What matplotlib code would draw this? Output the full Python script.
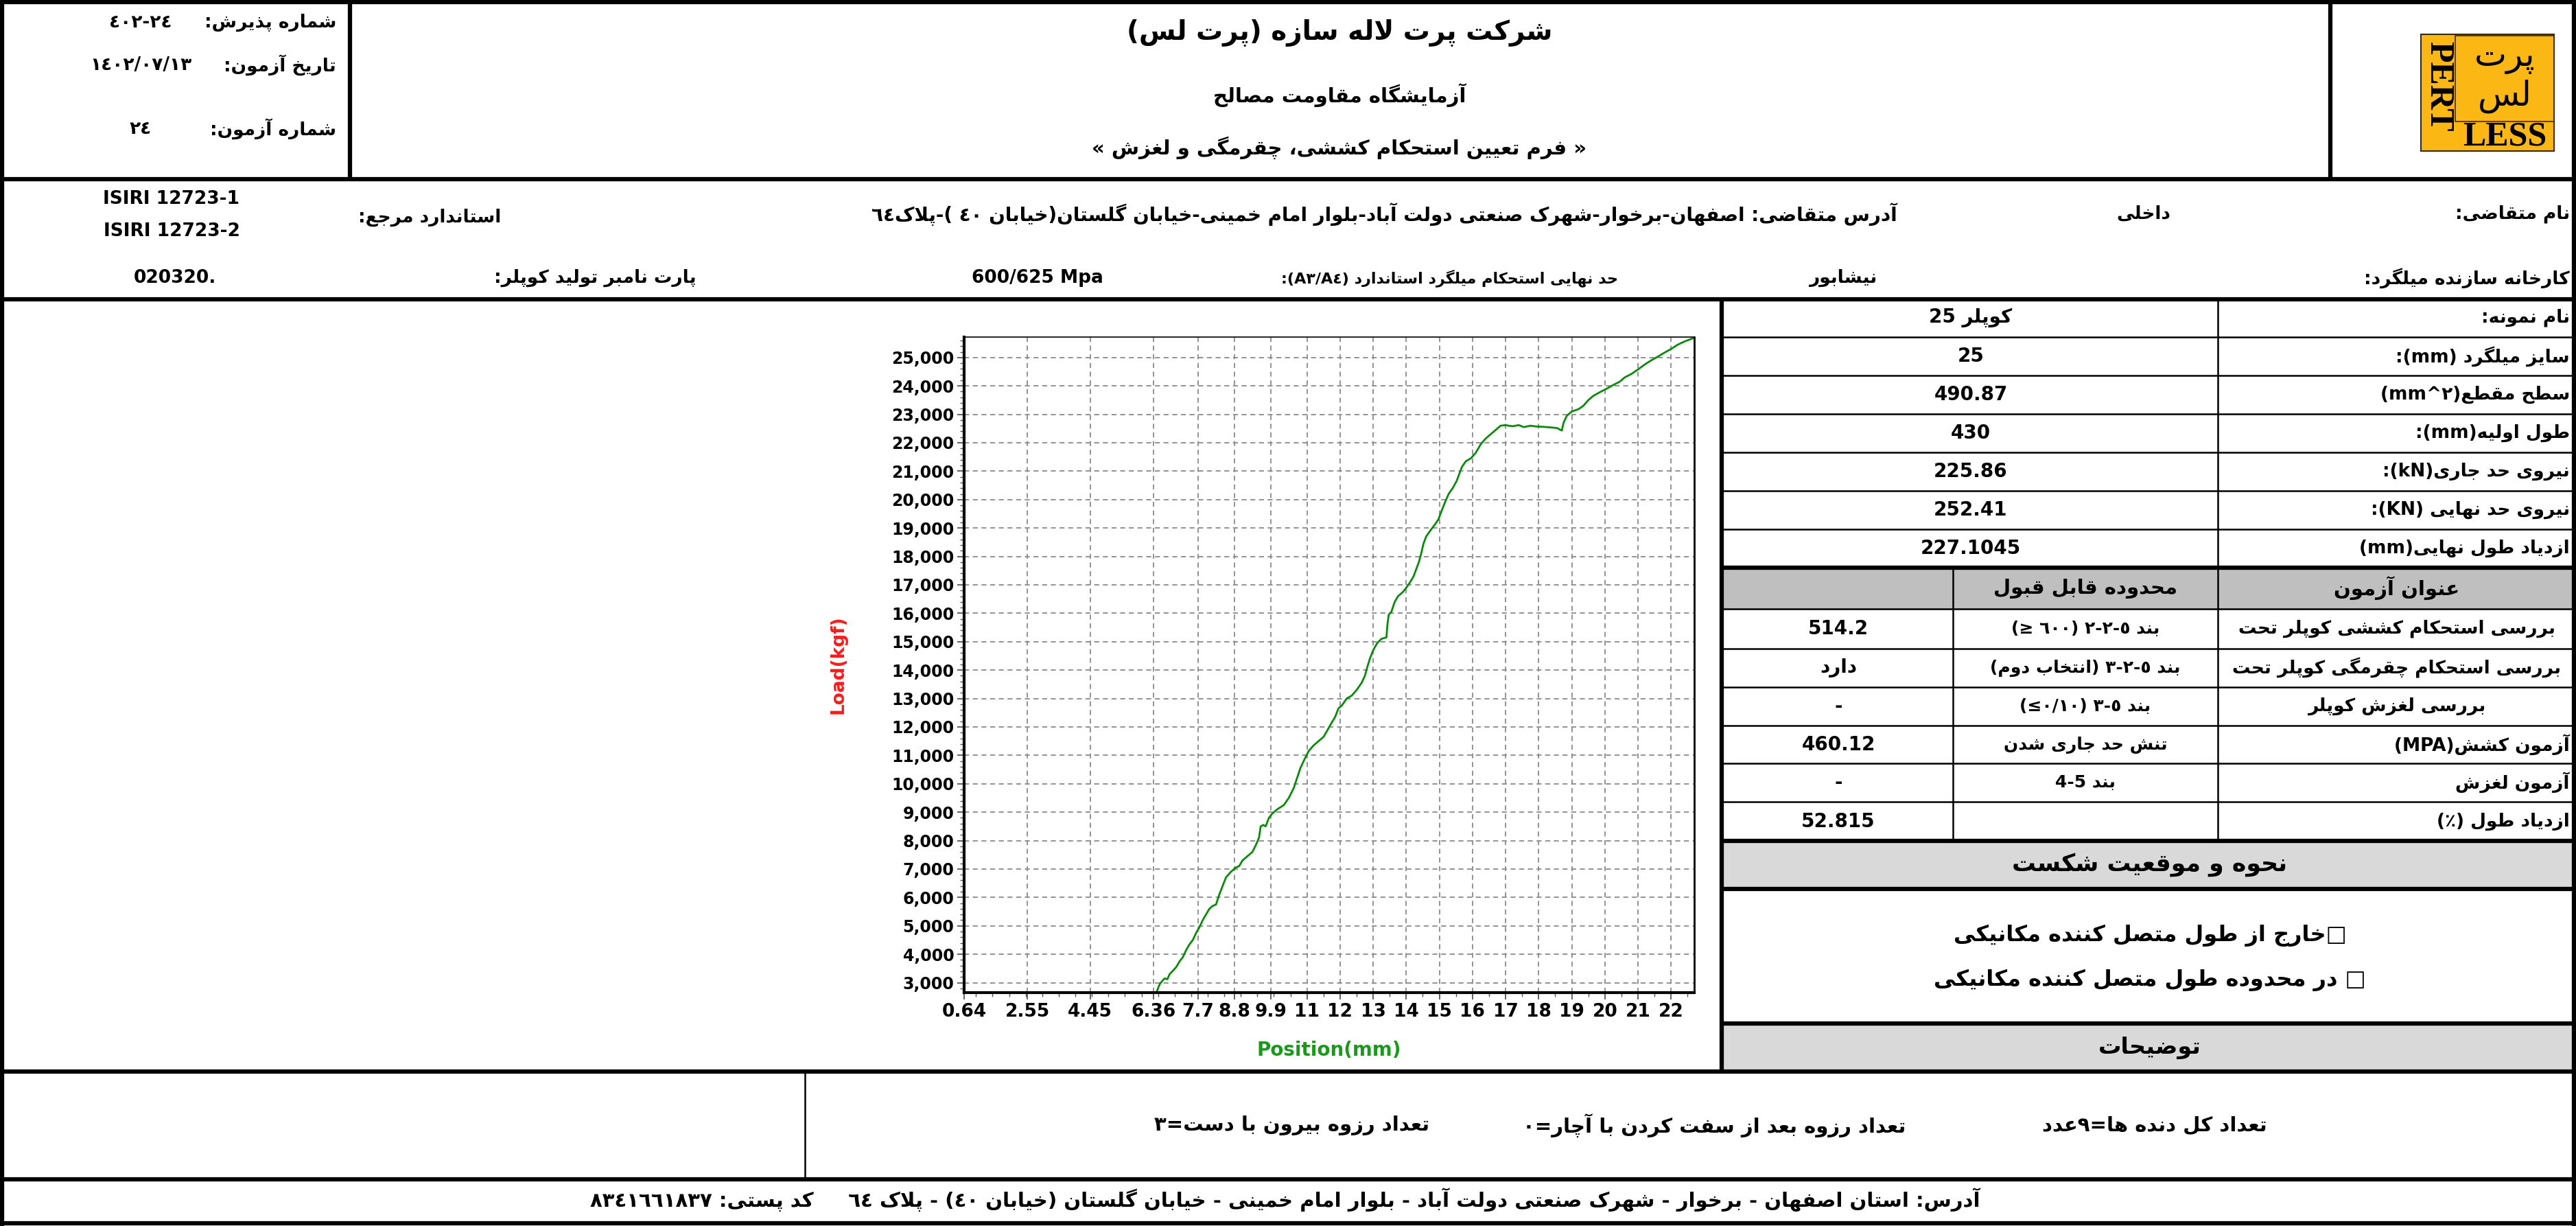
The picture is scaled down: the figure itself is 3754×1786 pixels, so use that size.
import numpy as np
import matplotlib
matplotlib.use("Agg")
import matplotlib.pyplot as plt
from matplotlib import font_manager
from matplotlib.ticker import FixedLocator, MultipleLocator, FuncFormatter
from matplotlib.patches import Rectangle

# ---- chart data ----
x_ticks = [0.64, 2.55, 4.45, 6.36, 7.7, 8.8, 9.9, 11, 12, 13, 14, 15, 16, 17, 18, 19, 20, 21, 22]
x_tick_labels = ['0.64', '2.55', '4.45', '6.36', '7.7', '8.8', '9.9', '11', '12', '13', '14',
                 '15', '16', '17', '18', '19', '20', '21', '22']
y_ticks = list(range(3000, 26000, 1000))

position = [6.45, 6.55, 6.62, 6.70, 6.78, 6.85, 6.95, 7.05, 7.15, 7.25, 7.35, 7.45, 7.55, 7.65,
            7.75, 7.85, 7.95, 8.05, 8.15, 8.25, 8.35, 8.45, 8.55, 8.70, 8.85, 8.95, 9.05, 9.20,
            9.35, 9.45, 9.55, 9.60, 9.68, 9.75, 9.85, 9.95, 10.10, 10.30, 10.45, 10.60, 10.70,
            10.80, 10.92, 11.05, 11.20, 11.35, 11.50, 11.60, 11.72, 11.85, 11.95, 12.05, 12.20,
            12.35, 12.50, 12.65, 12.75, 12.82, 12.90, 13.00, 13.12, 13.25, 13.40, 13.43, 13.47,
            13.55, 13.65, 13.75, 13.90, 14.00, 14.12, 14.22, 14.30, 14.38, 14.45, 14.52, 14.60,
            14.72, 14.85, 14.97, 15.05, 15.15, 15.28, 15.40, 15.52, 15.60, 15.68, 15.80, 15.95,
            16.10, 16.25, 16.40, 16.55, 16.70, 16.85, 17.00, 17.20, 17.40, 17.55, 17.75, 17.95,
            18.15, 18.35, 18.55, 18.70, 18.75, 18.85, 19.00, 19.20, 19.35, 19.50, 19.65, 19.85,
            20.05, 20.25, 20.45, 20.60, 20.80, 21.00, 21.20, 21.40, 21.60, 21.80, 22.00, 22.20,
            22.40, 22.60, 22.70]
load = [2650, 2950, 3050, 3150, 3120, 3300, 3420, 3550, 3750, 3900, 4150, 4350, 4500, 4750,
        4950, 5200, 5400, 5600, 5700, 5750, 6100, 6400, 6700, 6900, 7050, 7100, 7300, 7450,
        7600, 7830, 8100, 8500, 8550, 8500, 8800, 8950, 9100, 9250, 9500, 9850, 10200,
        10550, 10850, 11150, 11350, 11500, 11650, 11850, 12100, 12350, 12650, 12750, 13000,
        13100, 13300, 13550, 13800, 14100, 14400, 14700, 14950, 15100, 15150, 15600, 15950,
        16050, 16400, 16600, 16750, 16900, 17100, 17300, 17550, 17800, 18100, 18450, 18700,
        18900, 19100, 19300, 19550, 19850, 20200, 20400, 20650, 20900, 21150, 21350, 21450,
        21650, 21950, 22150, 22300, 22450, 22600, 22620, 22580, 22620, 22550, 22600, 22570,
        22560, 22540, 22520, 22430, 22700, 22950, 23100, 23180, 23300, 23500, 23650, 23780,
        23900, 24030, 24150, 24300, 24420, 24580, 24750, 24900, 25030, 25170, 25300, 25450,
        25560, 25650, 25700]

# ---- form texts ----
head_left_labels = ['شماره پذیرش:', 'تاریخ آزمون:', 'شماره آزمون:']
head_left_values = ['٤٠٢-٢٤', '١٤٠٢/٠٧/١٣', '٢٤']
head_titles = ['شرکت پرت لاله سازه (پرت لس)', 'آزمایشگاه مقاومت مصالح',
               '« فرم تعیین استحکام کششی، چقرمگی و لغزش »']

sample_labels = ['نام نمونه:', 'سایز میلگرد (mm):', 'سطح مقطع(mm^۲)', 'طول اولیه(mm):',
                 'نیروی حد جاری(kN):', 'نیروی حد نهایی (KN):', 'ازدیاد طول نهایی(mm)']
sample_values = ['کوپلر 25', '25', '490.87', '430', '225.86', '252.41', '227.1045']

test_titles = ['بررسی استحکام کششی کوپلر تحت', 'بررسی استحکام چقرمگی کوپلر تحت',
               'بررسی لغزش کوپلر', 'آزمون کشش(MPA)', 'آزمون لغزش', 'ازدیاد طول (٪)']
test_ranges = ['بند ٥-٢-٢ (٦٠٠ ≤)', 'بند ٥-٢-٣ (انتخاب دوم)', 'بند ٥-٣ (٠/١٠≥)',
               'تنش حد جاری شدن', 'بند 4-5', '']
test_results = ['514.2', 'دارد', '-', '460.12', '-', '52.815']

# ---- minimal Persian shaping + bidi for matplotlib ----
FORMS = {
    'ء': ('\uFE80', None, None, None),
    'آ': ('\uFE81', '\uFE82', None, None), 'ا': ('\uFE8D', '\uFE8E', None, None),
    'ب': ('\uFE8F', '\uFE90', '\uFE91', '\uFE92'), 'پ': ('\uFB56', '\uFB57', '\uFB58', '\uFB59'),
    'ت': ('\uFE95', '\uFE96', '\uFE97', '\uFE98'), 'ث': ('\uFE99', '\uFE9A', '\uFE9B', '\uFE9C'),
    'ج': ('\uFE9D', '\uFE9E', '\uFE9F', '\uFEA0'), 'چ': ('\uFB7A', '\uFB7B', '\uFB7C', '\uFB7D'),
    'ح': ('\uFEA1', '\uFEA2', '\uFEA3', '\uFEA4'), 'خ': ('\uFEA5', '\uFEA6', '\uFEA7', '\uFEA8'),
    'د': ('\uFEA9', '\uFEAA', None, None), 'ذ': ('\uFEAB', '\uFEAC', None, None),
    'ر': ('\uFEAD', '\uFEAE', None, None), 'ز': ('\uFEAF', '\uFEB0', None, None),
    'ژ': ('\uFB8A', '\uFB8B', None, None),
    'س': ('\uFEB1', '\uFEB2', '\uFEB3', '\uFEB4'), 'ش': ('\uFEB5', '\uFEB6', '\uFEB7', '\uFEB8'),
    'ص': ('\uFEB9', '\uFEBA', '\uFEBB', '\uFEBC'), 'ض': ('\uFEBD', '\uFEBE', '\uFEBF', '\uFEC0'),
    'ط': ('\uFEC1', '\uFEC2', '\uFEC3', '\uFEC4'), 'ظ': ('\uFEC5', '\uFEC6', '\uFEC7', '\uFEC8'),
    'ع': ('\uFEC9', '\uFECA', '\uFECB', '\uFECC'), 'غ': ('\uFECD', '\uFECE', '\uFECF', '\uFED0'),
    'ف': ('\uFED1', '\uFED2', '\uFED3', '\uFED4'), 'ق': ('\uFED5', '\uFED6', '\uFED7', '\uFED8'),
    'ک': ('\uFB8E', '\uFB8F', '\uFB90', '\uFB91'), 'گ': ('\uFB92', '\uFB93', '\uFB94', '\uFB95'),
    'ل': ('\uFEDD', '\uFEDE', '\uFEDF', '\uFEE0'), 'م': ('\uFEE1', '\uFEE2', '\uFEE3', '\uFEE4'),
    'ن': ('\uFEE5', '\uFEE6', '\uFEE7', '\uFEE8'), 'و': ('\uFEED', '\uFEEE', None, None),
    'ه': ('\uFEE9', '\uFEEA', '\uFEEB', '\uFEEC'), 'ی': ('\uFBFC', '\uFBFD', '\uFBFE', '\uFBFF'),
    'ي': ('\uFEF1', '\uFEF2', '\uFEF3', '\uFEF4'),
}
LAM_ALEF = {'ا': ('\uFEFB', '\uFEFC'), 'آ': ('\uFEF5', '\uFEF6')}
MIRROR = {'(': ')', ')': '(', '«': '»', '»': '«', '≤': '≥', '≥': '≤', '[': ']', ']': '['}


def shape(s):
    def dual(c):
        return c in FORMS and FORMS[c][2] is not None

    def joins(c):
        return c in FORMS and FORMS[c][1] is not None
    out, i = [], 0
    while i < len(s):
        c = s[i]
        if c not in FORMS:
            out.append(c)
            i += 1
            continue
        jp = i > 0 and dual(s[i - 1]) and joins(c)
        if c == 'ل' and i + 1 < len(s) and s[i + 1] in LAM_ALEF:
            out.append(LAM_ALEF[s[i + 1]][1 if jp else 0])
            i += 2
            continue
        jn = dual(c) and i + 1 < len(s) and joins(s[i + 1])
        iso, fin, ini, med = FORMS[c]
        out.append(med if (jp and jn) else fin if jp else ini if jn else iso)
        i += 1
    return ''.join(out)


def is_rtl(c):
    return ('\u0600' <= c <= '\u06FF' or '\uFB50' <= c <= '\uFEFF') and not (
        '\u0660' <= c <= '\u0669' or '\u06F0' <= c <= '\u06F9')


def bidi_class(c):
    if c.isascii() and c.isalpha():
        return 'L'
    if c.isascii() and c.isdigit() or '\u06F0' <= c <= '\u06F9':
        return 'EN'
    if '\u0660' <= c <= '\u0669':
        return 'AN'
    if is_rtl(c):
        return 'R'
    if c in '.,/:':
        return 'CS'
    if c in '-+':
        return 'ES'
    return 'ON'


def fa(s):
    # shape the letters, then put the string in visual (left to right) order
    if not any(is_rtl(c) for c in s):
        return s
    t = shape(s)
    n = len(t)
    cls = [bidi_class(c) for c in t]
    for i in range(1, n - 1):
        if cls[i] == 'CS' and cls[i - 1] == cls[i + 1] and cls[i - 1] in ('EN', 'AN'):
            cls[i] = cls[i - 1]
        elif cls[i] == 'ES' and cls[i - 1] == cls[i + 1] == 'EN':
            cls[i] = 'EN'
    last = 'R'
    for i in range(n):
        if cls[i] in ('L', 'R'):
            last = cls[i]
        elif cls[i] == 'EN' and last == 'L':
            cls[i] = 'L'
    i = 0
    while i < n:
        if cls[i] in ('CS', 'ES', 'ON'):
            j = i
            while j < n and cls[j] in ('CS', 'ES', 'ON'):
                j += 1
            left = 'L' if i > 0 and cls[i - 1] == 'L' else 'R'
            right = 'L' if j < n and cls[j] == 'L' else 'R'
            for k in range(i, j):
                cls[k] = left if left == right else 'R'
            i = j
        else:
            i += 1
    segs = []
    for c, k in zip(t, cls):
        lv = 1 if k == 'R' else 2
        if segs and segs[-1][0] == lv:
            segs[-1][1].append(c)
        else:
            segs.append([lv, [c]])
    out = []
    for lv, chars in reversed(segs):
        if lv == 2:
            out.append(''.join(chars))
        else:
            out.append(''.join(MIRROR.get(c, c) for c in reversed(chars)))
    return ''.join(out)


names = {f.name for f in font_manager.fontManager.ttflist}
NARROW = 'Liberation Sans Narrow' if 'Liberation Sans Narrow' in names else 'DejaVu Sans'
FA = 'DejaVu Sans'
SERIF = 'Liberation Serif' if 'Liberation Serif' in names else 'DejaVu Serif'

W, H = 3754, 1786
fig = plt.figure(figsize=(W / 100, H / 100), dpi=100)
ax0 = fig.add_axes([0, 0, 1, 1])
ax0.set_xlim(0, W)
ax0.set_ylim(H, 0)
ax0.axis('off')


def put(x, y, s, size=20, ha='center', family=FA, color='black', weight='bold', **kw):
    ax0.text(x, y, fa(s), fontsize=size, ha=ha, va='center', family=family,
             fontweight=weight, color=color, **kw)


def hline(y, x0, x1, lw):
    ax0.plot([x0, x1], [y, y], color='black', lw=lw, solid_capstyle='butt')


def vline(x, y0, y1, lw):
    ax0.plot([x, x], [y0, y1], color='black', lw=lw, solid_capstyle='butt')


THICK, THIN = 4.5, 1.8
TX = 2509  # left edge of the table
# gray bands
ax0.add_patch(Rectangle((TX, 827), W - TX, 60, color='#bfbfbf', zorder=0))
ax0.add_patch(Rectangle((TX, 1225), W - TX, 70, color='#d9d9d9', zorder=0))
ax0.add_patch(Rectangle((TX, 1491), W - TX, 70, color='#d9d9d9', zorder=0))

for y in [3, 261, 436, 1561, 1718, 1782]:
    hline(y, 0, W, THICK)
vline(3, 0, H, THICK)
vline(W - 3, 0, H, THICK)
vline(510, 0, 261, THICK)
vline(3396, 0, 261, THICK)
vline(TX, 436, 1561, THICK)
for y in [491, 547, 603, 659, 715, 771, 887, 945, 1001, 1057, 1112, 1168]:
    hline(y, TX, W, THIN)
for y in [827, 1225, 1295, 1491]:
    hline(y, TX, W, THICK)
vline(3232, 436, 1225, THIN)
vline(2846, 827, 1225, THIN)
vline(1173, 1561, 1718, THIN)

# header
for lab, val, y in zip(head_left_labels, head_left_values, [33, 95, 188]):
    put(490, y, lab, 19, ha='right')
    put(205, y, val, 19)
for t, y, s in zip(head_titles, [48, 139, 215], [28, 21, 21]):
    put(1952, y, t, s)

# logo
ax0.add_patch(Rectangle((3528, 50), 194, 170, facecolor='#fbb814', edgecolor='#3a2a10', lw=1.5))
ax0.add_patch(Rectangle((3578, 52), 144, 125, facecolor='none', edgecolor='#3a2a10', lw=1.2))
ax0.text(3553, 126, 'PERT', rotation=270, fontsize=36, family=SERIF, fontweight='bold',
         ha='center', va='center')
ax0.text(3650, 200, 'LESS', fontsize=36, family=SERIF, fontweight='bold', ha='center', va='center')
put(3650, 84, 'پرت', 36, weight='normal')
put(3650, 140, 'لس', 36, weight='normal')

# second row
put(3745, 312, 'نام متقاضی:', 19, ha='right')
put(3124, 312, 'داخلی', 19)
put(2765, 312, 'آدرس متقاضی: اصفهان-برخوار-شهرک صنعتی دولت آباد-بلوار امام خمینی-خیابان گلستان(خیابان ٤٠ )-پلاک٦٤', 20, ha='right')
put(730, 317, 'استاندارد مرجع:', 19, ha='right')
put(250, 290, 'ISIRI 12723-1', 19, family=NARROW)
put(250, 337, 'ISIRI 12723-2', 19, family=NARROW)
put(3745, 405, 'کارخانه سازنده میلگرد:', 19, ha='right')
put(2686, 405, 'نیشابور', 19)
put(2358, 405, 'حد نهایی استحکام میلگرد استاندارد (A٤/A٣):', 16, ha='right')
put(1512, 405, '600/625 Mpa', 19, family=NARROW)
put(1015, 405, 'پارت نامبر تولید کوپلر:', 19, ha='right')
put(255, 405, '020320.', 19, family=NARROW)

# sample table
row_y = [463, 519, 575, 631, 687, 743, 799]
for lab, val, y in zip(sample_labels, sample_values, row_y):
    put(3745, y, lab, 19, ha='right')
    put(2872, y, val, 20, family=NARROW if not any(is_rtl(c) for c in val) else FA)

put(3493, 857, 'عنوان آزمون', 21)
put(3039, 857, 'محدوده قابل قبول', 21)
test_y = [916, 973, 1029, 1085, 1140, 1197]
for i, (t, r, v, y) in enumerate(zip(test_titles, test_ranges, test_results, test_y)):
    if i < 3:
        put(3493, y, t, 19)
    else:
        put(3745, y, t, 19, ha='right')
    put(3039, y, r, 18)
    put(2679, y, v, 20, family=NARROW if not any(is_rtl(c) for c in v) else FA)

put(3133, 1260, 'نحوه و موقعیت شکست', 25)
put(3133, 1363, '□خارج از طول متصل کننده مکانیکی', 23)
put(3133, 1428, '□ در محدوده طول متصل کننده مکانیکی', 23)
put(3133, 1526, 'توضیحات', 24)

# bottom rows
put(3304, 1640, 'تعداد کل دنده ها=٩عدد', 21, ha='right')
put(2777, 1640, 'تعداد رزوه بعد از سفت کردن با آچار=٠', 21, ha='right')
put(2083, 1640, 'تعداد رزوه بیرون با دست=٣', 21, ha='right')
put(1873, 1748, 'آدرس: استان اصفهان - برخوار - شهرک صنعتی دولت آباد - بلوار امام خمینی - خیابان گلستان (خیابان ٤٠) - پلاک ٦٤     کد پستی: ٨٣٤١٦٦١٨٣٧', 21)

# ---- load / position chart ----
ax = fig.add_axes([1405 / W, 1 - 1446 / H, (2469 - 1405) / W, (1446 - 491) / H])
ax.plot(position, load, color='#0a8a0a', lw=2.0)
ax.set_xlim(0.64, 22.7)
ax.set_ylim(2650, 25720)
ax.xaxis.set_major_locator(FixedLocator(x_ticks))
ax.set_xticklabels(x_tick_labels)
ax.xaxis.set_minor_locator(MultipleLocator(0.5))
ax.yaxis.set_major_locator(FixedLocator(y_ticks))
ax.yaxis.set_minor_locator(MultipleLocator(200))
ax.yaxis.set_major_formatter(FuncFormatter(lambda v, p: f'{int(v):,}'))
ax.grid(True, which='major', color='#8a8a8a', lw=1.3, linestyle=(0, (4, 3)))
ax.tick_params(which='major', direction='out', length=7, width=1.3, color='#555555')
ax.tick_params(which='minor', direction='out', length=4, width=1.0, color='#555555')
for lab in ax.get_yticklabels():
    lab.set_fontsize(17)
    lab.set_fontweight('bold')
for lab in ax.get_xticklabels():
    lab.set_fontsize(19)
    lab.set_fontweight('bold')
    lab.set_family(NARROW)
ax.spines['left'].set_linewidth(3)
ax.spines['bottom'].set_linewidth(3)
ax.spines['right'].set_linewidth(2)
ax.spines['top'].set_linewidth(1.2)
ax.set_ylabel('Load(kgf)', color='#ff1a1a', fontsize=19, fontweight='bold', family=NARROW)
ax.yaxis.set_label_coords(-0.16, 0.5)
ax.set_xlabel('Position(mm)', color='#1a9a1a', fontsize=20, fontweight='bold', family=NARROW)
ax.xaxis.set_label_coords(0.5, -0.073)

fig.savefig('out.png', dpi=100)
